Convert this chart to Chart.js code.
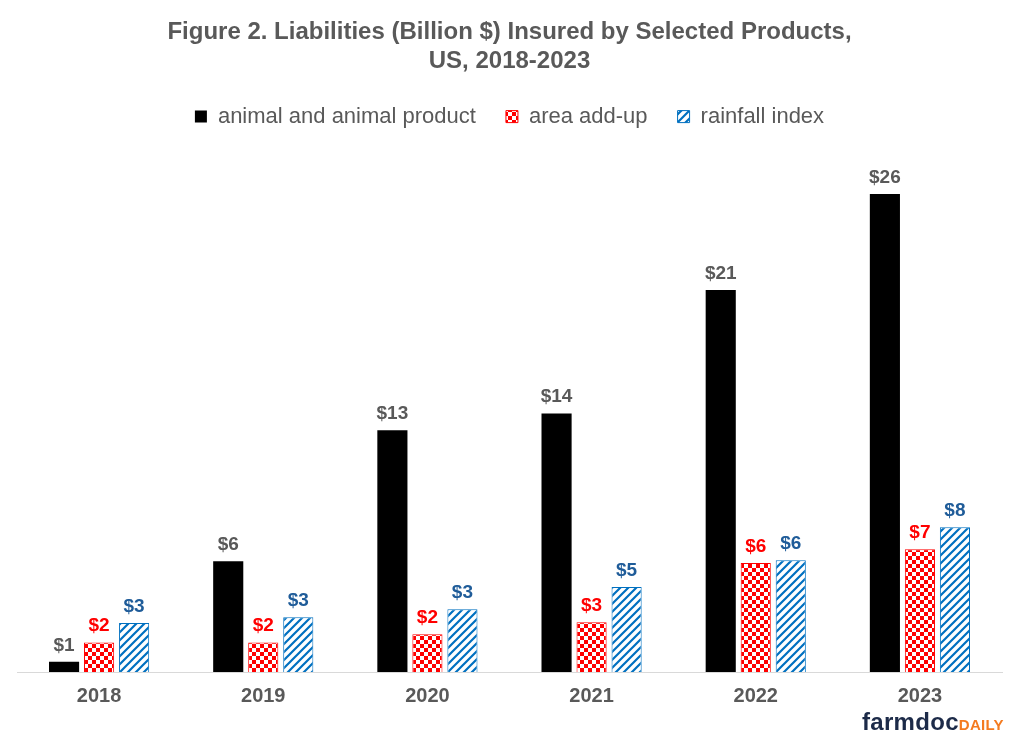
<!DOCTYPE html>
<html>
<head>
<meta charset="utf-8">
<script src="https://cdn.jsdelivr.net/npm/chart.js@4"></script>
<style>
html,body{margin:0;padding:0;background:#fff;}
#wrap{position:relative;width:1018px;height:740px;}
#logo{position:absolute;left:862px;top:708px;font-family:"Liberation Sans",Arial,sans-serif;font-weight:bold;white-space:nowrap;line-height:28px;}
#logo .f{color:#1c2a48;font-size:24px;letter-spacing:0.3px;}
#logo .d{color:#f47b20;font-size:15px;letter-spacing:0.3px;}
</style>
</head>
<body>
<div id="wrap">
<canvas id="c" width="1018" height="740"></canvas>
<div id="logo"><span class="f">farmdoc</span><span class="d">DAILY</span></div>
</div>
<script>
const years = ["2018","2019","2020","2021","2022","2023"];
const animalProduct = [0.55, 6.0, 13.1, 14.0, 20.7, 25.9];
const areaAddUp = [1.6, 1.6, 2.05, 2.7, 5.9, 6.65];
const rainfallIndex = [2.65, 2.97, 3.4, 4.6, 6.05, 7.84];
const seriesNames = ["animal and animal product", "area add-up", "rainfall index"];
const labelColors = ["#595959", "#FF0000", "#1F5C99"];

function checkerPattern(){
  const c = document.createElement('canvas'); c.width = 8; c.height = 8;
  const g = c.getContext('2d');
  g.fillStyle = '#fff'; g.fillRect(0,0,8,8);
  g.fillStyle = '#FF0000'; g.fillRect(0,0,4,4); g.fillRect(4,4,4,4);
  return g.createPattern(c,'repeat');
}
function stripePattern(){
  const c = document.createElement('canvas'); c.width = 8; c.height = 8;
  const g = c.getContext('2d');
  g.fillStyle = '#fff'; g.fillRect(0,0,8,8);
  g.strokeStyle = '#0070C0'; g.lineWidth = 2.2;
  g.beginPath();
  g.moveTo(-1,9); g.lineTo(9,-1);
  g.moveTo(-5,5); g.lineTo(5,-5);
  g.moveTo(3,13); g.lineTo(13,3);
  g.stroke();
  return g.createPattern(c,'repeat');
}

const valueLabels = {
  id: 'valueLabels',
  afterDatasetsDraw(chart){
    const ctx = chart.ctx;
    ctx.save();
    ctx.font = 'bold 19px "Liberation Sans", Arial, sans-serif';
    ctx.textAlign = 'center';
    ctx.textBaseline = 'bottom';
    chart.data.datasets.forEach((ds, i) => {
      const meta = chart.getDatasetMeta(i);
      ctx.fillStyle = labelColors[i];
      meta.data.forEach((bar, j) => {
        ctx.fillText('$' + Math.round(ds.data[j]), bar.x, bar.y - 7);
      });
    });
    ctx.restore();
  }
};

const titleFont = {family: '"Liberation Sans", Arial, sans-serif', size: 24, weight: 'bold'};

new Chart(document.getElementById('c'), {
  type: 'bar',
  data: {
    labels: years,
    datasets: [
      {label: seriesNames[0], data: animalProduct, backgroundColor: '#000000', borderColor: '#000000', borderWidth: 0},
      {label: seriesNames[1], data: areaAddUp, backgroundColor: checkerPattern(), borderColor: '#FF0000', borderWidth: 1},
      {label: seriesNames[2], data: rainfallIndex, backgroundColor: stripePattern(), borderColor: '#0070C0', borderWidth: 1}
    ]
  },
  options: {
    responsive: false,
    animation: false,
    events: [],
    layout: {padding: {left: 17, right: 16, top: 2, bottom: 20}},
    datasets: {bar: {categoryPercentage: 0.64, barPercentage: 0.86}},
    plugins: {
      title: {
        display: true,
        text: ['Figure 2. Liabilities (Billion $) Insured by Selected Products,', 'US, 2018-2023'],
        color: '#595959',
        font: titleFont,
        padding: {top: 16, bottom: 0},
        lineHeight: 1.2
      },
      legend: {
        display: true,
        labels: {
          color: '#595959',
          font: {family: '"Liberation Sans", Arial, sans-serif', size: 22},
          boxWidth: 12, boxHeight: 12,
          padding: 30
        }
      },
      tooltip: {enabled: false}
    },
    scales: {
      x: {
        grid: {display: false, drawTicks: false},
        border: {display: true, color: '#D9D9D9', width: 1},
        ticks: {color: '#595959', font: {family: '"Liberation Sans", Arial, sans-serif', size: 20, weight: 'bold'}, padding: 12}
      },
      y: {display: false, min: 0, max: 28.95}
    }
  },
  plugins: [valueLabels]
});
</script>
</body>
</html>
